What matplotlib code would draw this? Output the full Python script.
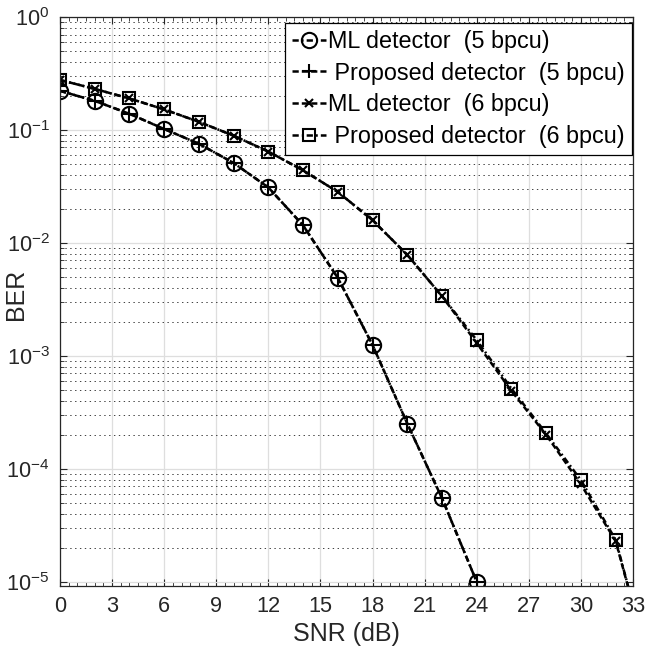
import matplotlib
matplotlib.use("Agg")
import matplotlib.pyplot as plt
from matplotlib.ticker import LogLocator, MultipleLocator, NullFormatter

plt.rcParams['font.family'] = ['Liberation Sans', 'DejaVu Sans']
plt.rcParams['mathtext.fontset'] = 'custom'
plt.rcParams['mathtext.rm'] = 'Liberation Sans'
plt.rcParams['mathtext.it'] = 'Liberation Sans:italic'
plt.rcParams['mathtext.bf'] = 'Liberation Sans:bold'
plt.rcParams['lines.scale_dashes'] = False

# Data
snr_5 = [0, 2, 4, 6, 8, 10, 12, 14, 16, 18, 20, 22, 24]
ber_ml_5 = [0.222, 0.181, 0.139, 0.102, 0.0755, 0.051, 0.031, 0.0143,
            0.0049, 0.00125, 2.52e-4, 5.5e-5, 1.0e-5]
ber_prop_5 = [0.222, 0.181, 0.139, 0.102, 0.0755, 0.051, 0.031, 0.0143,
              0.0049, 0.00125, 2.52e-4, 5.5e-5, 1.0e-5]

snr_6 = [0, 2, 4, 6, 8, 10, 12, 14, 16, 18, 20, 22, 24, 26, 28, 30, 32, 34]
ber_ml_6 = [0.277, 0.231, 0.19, 0.152, 0.118, 0.089, 0.0644, 0.0439, 0.0283,
            0.0159, 0.00785, 0.00338, 1.30e-3, 4.9e-4, 2.0e-4, 7.3e-5, 2.3e-5, 1.7e-6]
ber_prop_6 = [0.277, 0.231, 0.19, 0.152, 0.118, 0.089, 0.0644, 0.0439, 0.0283,
              0.0159, 0.00785, 0.00338, 1.38e-3, 5.14e-4, 2.06e-4, 7.96e-5, 2.36e-5, 1.7e-6]

labels = ['ML detector  (5 bpcu)', ' Proposed detector  (5 bpcu)',
          'ML detector  (6 bpcu)', ' Proposed detector  (6 bpcu)']
x_ticks = [0, 3, 6, 9, 12, 15, 18, 21, 24, 27, 30, 33]

fig = plt.figure(figsize=(6.46, 6.55), dpi=100)
ax = fig.add_axes([60/646, 1-586/655, (633-60)/646, (586-17)/655])

lw = 1.8
dashdot = (0, (4.5, 2.2, 1.3, 2.2))
dashed = (0, (4.5, 2.2))
ax.semilogy(snr_5, ber_ml_5, linestyle=dashdot, color='k', lw=lw, marker='o',
            markersize=11, markerfacecolor='none', markeredgewidth=1.5, label=labels[0])
ax.semilogy(snr_5, ber_prop_5, linestyle=dashed, color='k', lw=lw, marker='+',
            markersize=9.5, markeredgewidth=1.5, label=labels[1])
ax.semilogy(snr_6, ber_ml_6, linestyle=dashed, color='k', lw=lw, marker='x',
            markersize=6, markeredgewidth=1.5, label=labels[2])
ax.semilogy(snr_6, ber_prop_6, linestyle=dashdot, color='k', lw=lw, marker='s',
            markersize=8.8, markerfacecolor='none', markeredgewidth=1.5, label=labels[3])

ax.set_xlim(0, 33)
ax.set_ylim(9.2e-6, 1)
ax.set_xticks(x_ticks)
ax.xaxis.set_minor_locator(MultipleLocator(0.5))
ax.yaxis.set_major_locator(LogLocator(base=10, numticks=10))
ax.yaxis.set_minor_locator(LogLocator(base=10, subs=range(2, 10), numticks=100))
ax.yaxis.set_minor_formatter(NullFormatter())

dark = '#262626'
ax.tick_params(which='both', direction='in', top=True, right=True, colors=dark,
               labelcolor=dark, labelsize=15.7)
ax.tick_params(which='major', length=5, width=0.8)
ax.tick_params(which='minor', length=3, width=0.6)
ax.tick_params(axis='x', which='major', pad=7)
ax.tick_params(axis='y', which='major', pad=7.5)
for s in ax.spines.values():
    s.set_color(dark)
    s.set_linewidth(0.9)

ax.grid(True, which='major', axis='both', color='#dedede', linestyle='-', linewidth=0.9)
ax.grid(True, which='minor', axis='y', color='#404040', linestyle=(0, (1, 2.5)), linewidth=0.7)
ax.set_axisbelow(True)

ax.set_xlabel('SNR (dB)', fontsize=18, color=dark, labelpad=4)
ax.set_ylabel('BER', fontsize=18, color=dark)
ax.yaxis.set_label_coords(-0.055, 0.513)

leg = ax.legend(loc='upper right', bbox_to_anchor=(1 - 1.3/573, 1 - 6/569),
                borderaxespad=0, fontsize=16.8, frameon=True, fancybox=False,
                edgecolor='k', framealpha=1, handlelength=1.45, handletextpad=0.1,
                labelspacing=0.37, borderpad=0.3)
leg.get_frame().set_linewidth(0.9)

fig.savefig('out.png', dpi=100)
